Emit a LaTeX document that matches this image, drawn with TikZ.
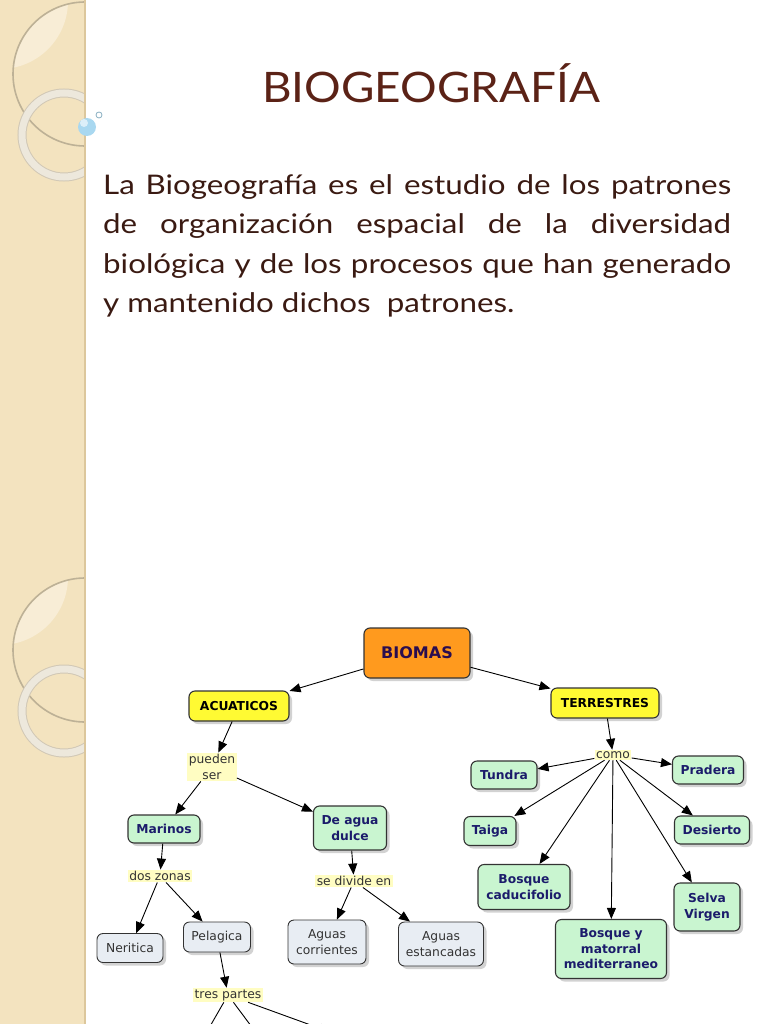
\documentclass[tikz,border=0pt]{standalone}
\usepackage{fontspec}
\setmainfont{Lato}
\newfontfamily\slidefont[FakeStretch=1.09]{Lato}
\newfontfamily\bodyfont[FakeStretch=1.16]{Lato}
\newfontfamily\mapfont{DejaVu Sans}
\usetikzlibrary{positioning, arrows.meta, shadows}
\definecolor{StripA}{HTML}{F3E3BF}
\definecolor{StripB}{HTML}{F8EDD6}
\definecolor{StripEdge}{HTML}{DCC79C}
\definecolor{RingA}{HTML}{BDB196}
\definecolor{RingB}{HTML}{EDE8DC}
\definecolor{DotA}{HTML}{A9D8F0}
\definecolor{TitleC}{HTML}{5B2216}
\definecolor{TextC}{HTML}{3A1A12}
\definecolor{OrangeA}{HTML}{FF9A1E}
\definecolor{YellowA}{HTML}{FFFA33}
\definecolor{GreenA}{HTML}{C9F5D0}
\definecolor{GrayA}{HTML}{E8EDF3}
\definecolor{LinkA}{HTML}{FFFDC2}
\definecolor{NavyA}{HTML}{1B1B6B}
\definecolor{PurpleA}{HTML}{2A0D4F}
\tikzset{
  box/.style={draw=black!80, line width=1.1pt, rounded corners=6pt, align=center, inner sep=3pt,
    font=\mapfont\bfseries\fontsize{12.3}{15.5}\selectfont,
    drop shadow={shadow xshift=3pt, shadow yshift=-3pt, fill=black!35}},
  root/.style={fill=OrangeA, text=PurpleA, font=\mapfont\bfseries\fontsize{16}{18}\selectfont},
  main/.style={fill=YellowA, text=black},
  sub/.style={fill=GreenA, text=NavyA},
  leaf/.style={fill=GrayA, text=black!80, line width=0.9pt, font=\mapfont\fontsize{12.3}{15.5}\selectfont},
  link/.style={fill=LinkA, align=center, inner sep=1.5pt, text=black!80, font=\mapfont\fontsize{12.3}{16}\selectfont},
  arr/.style={-{Triangle[length=11pt, width=9pt]}, line width=0.9pt}
}

\begin{document}
\begin{tikzpicture}[x=1pt, y=-1pt]
  \useasboundingbox (0,0) rectangle (768,1024);

  % margin strip
  \fill[StripA] (0,0) rectangle (85,1024);
  \begin{scope}
    \clip (0,0) rectangle (85,1024);
    \foreach \dy in {0,576} {
      \begin{scope}
        \clip (85,74+\dy) circle (72pt);
        \fill[StripB] (0,1+\dy) circle (68pt);
      \end{scope}
      \draw[RingA, line width=1.6pt] (85,74+\dy) circle (72pt);
      \draw[RingA!70, line width=9pt] (64,135+\dy) circle (42pt);
      \draw[RingB, line width=7pt] (64,135+\dy) circle (42pt);
    }
  \end{scope}
  \draw[StripEdge, line width=1.5pt] (85,0) -- (85,1024);
  \fill[DotA] (87,127) circle (9pt);
  \fill[white, opacity=0.6] (84,123) circle (4pt);
  \draw[DotA!80!black, line width=0.8pt] (99,115) circle (3pt);

  % title and text
  \node[anchor=base, text=TitleC, font=\slidefont\fontsize{42}{46}\selectfont] (title) at (431,103) {BIOGEOGRAFÍA};
  \node[anchor=north west, inner sep=0pt, text width=628pt, align=justify, text=TextC,
    font=\bodyfont\fontsize{27}{39.5}\selectfont] (intro) at (103,174)
    {La Biogeografía es el estudio de los patrones\linebreak
     de organización espacial de la diversidad\linebreak
     biológica y de los procesos que han generado\linebreak
     y mantenido dichos\ \ patrones.};

  % concept map
  \node[box,root,minimum width=106pt,minimum height=50pt] (biomas) at (417,653) {BIOMAS};
  \node[box,main,minimum width=100pt,minimum height=30pt] (acuaticos) at (239,706) {ACUATICOS};
  \node[box,main,minimum width=108pt,minimum height=30pt] (terrestres) at (605,703) {TERRESTRES};

  \node[link] (pueden) at (212,767) {pueden\\ser};
  \node[box,sub,minimum width=72pt,minimum height=28pt] (marinos) at (164,829) {Marinos};
  \node[box,sub,minimum width=73pt,minimum height=44pt] (dulce) at (350,828) {De agua\\dulce};
  \node[link] (doszonas) at (160,876) {dos zonas};
  \node[link] (divide) at (354,881) {se divide en};
  \node[box,leaf,minimum width=66pt,minimum height=29pt] (neritica) at (130,948) {Neritica};
  \node[box,leaf,minimum width=67pt,minimum height=30pt] (pelagica) at (217,937) {Pelagica};
  \node[box,leaf,minimum width=78pt,minimum height=44pt] (corrientes) at (327,942) {Aguas\\corrientes};
  \node[box,leaf,minimum width=85pt,minimum height=44pt] (estancadas) at (441,944) {Aguas\\estancadas};
  \node[link] (trespartes) at (228,995) {tres partes};
  \coordinate (cut1) at (201,1042);
  \coordinate (cut2) at (263,1042);
  \coordinate (cut3) at (330,1032);

  \node[link] (como) at (613,755) {como};
  \node[box,sub,minimum width=66pt,minimum height=28pt] (tundra) at (504,775) {Tundra};
  \node[box,sub,minimum width=71pt,minimum height=28pt] (pradera) at (708,770) {Pradera};
  \node[box,sub,minimum width=52pt,minimum height=29pt] (taiga) at (490,831) {Taiga};
  \node[box,sub,minimum width=75pt,minimum height=28pt] (desierto) at (712,830) {Desierto};
  \node[box,sub,minimum width=92pt,minimum height=45pt] (caducifolio) at (524,887) {Bosque\\caducifolio};
  \node[box,sub,minimum width=111pt,minimum height=59pt] (mediterraneo) at (611,949) {Bosque y\\matorral\\mediterraneo};
  \node[box,sub,minimum width=66pt,minimum height=48pt] (selva) at (707,907) {Selva\\Virgen};

  \draw[arr] (biomas) -- (acuaticos);
  \draw[arr] (biomas) -- (terrestres);
  \draw[arr] (acuaticos) -- (pueden);
  \draw[arr] (pueden) -- (marinos);
  \draw[arr] (pueden) -- (dulce);
  \draw[arr] (marinos) -- (doszonas);
  \draw[arr] (dulce) -- (divide);
  \draw[arr] (doszonas) -- (neritica);
  \draw[arr] (doszonas) -- (pelagica);
  \draw[arr] (divide) -- (corrientes);
  \draw[arr] (divide) -- (estancadas);
  \draw[arr] (pelagica) -- (trespartes);
  \begin{scope}
    \clip (0,0) rectangle (768,1024);
    \draw[arr] (trespartes) -- (cut1);
    \draw[arr] (trespartes) -- (cut2);
    \draw[arr] (trespartes) -- (cut3);
  \end{scope}
  \draw[arr] (terrestres) -- (como);
  \draw[arr] (como) -- (tundra);
  \draw[arr] (como) -- (pradera);
  \draw[arr] (como) -- (taiga);
  \draw[arr] (como) -- (desierto);
  \draw[arr] (como) -- (caducifolio);
  \draw[arr] (como) -- (mediterraneo);
  \draw[arr] (como) -- (selva);
\end{tikzpicture}
\end{document}
